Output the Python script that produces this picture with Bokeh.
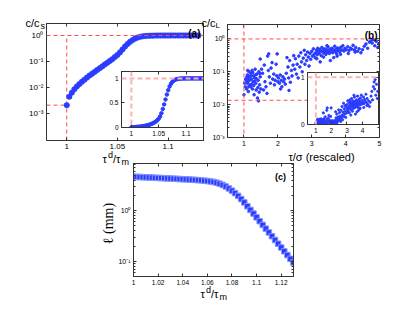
import numpy as np
from bokeh.plotting import figure
from bokeh.models import (Range1d, FixedTicker, CustomJSTickFormatter, LinearAxis,
                          LogAxis, Label, Span, Column, Plot)
from bokeh.embed import file_html
from bokeh.resources import INLINE

# ---------------- data ----------------
# panel (a): c/c_s versus tau^d/tau_m
a_x = [1.0000, 1.0025, 1.0050, 1.0075, 1.0100, 1.0125, 1.0150, 1.0175, 1.0200, 1.0225,
       1.0250, 1.0275, 1.0300, 1.0325, 1.0350, 1.0375, 1.0400, 1.0425, 1.0450, 1.0475,
       1.0500, 1.0525, 1.0550, 1.0575, 1.0600, 1.0625, 1.0650, 1.0675, 1.0700, 1.0725,
       1.0750, 1.0775, 1.0800, 1.0825, 1.0850, 1.0875, 1.0900, 1.0925, 1.0950, 1.0975,
       1.1000, 1.1025, 1.1050, 1.1075, 1.1100, 1.1125, 1.1150, 1.1175, 1.1200, 1.1225,
       1.1250, 1.1275, 1.1300]
a_y = [0.00209, 0.00437, 0.00631, 0.00851, 0.0110, 0.0135, 0.0166, 0.0200, 0.0240, 0.0288,
       0.0339, 0.0398, 0.0468, 0.0550, 0.0646, 0.0759, 0.0891, 0.105, 0.123, 0.148,
       0.178, 0.224, 0.290, 0.375, 0.470, 0.570, 0.670, 0.760, 0.835, 0.890,
       0.928, 0.954, 0.971, 0.982, 0.989, 0.993, 0.995, 0.997, 0.998, 0.999,
       0.999, 1.000, 1.000, 1.000, 1.000, 1.000, 1.000, 1.000, 1.000, 1.000,
       1.000, 1.000, 1.000]
a_ref_x = 1.0          # dashed guide positions
a_ref_top = 1.0
a_ref_low = 0.00209

# panel (b): c/c_L versus tau/sigma (rescaled)
b_x = [1.00, 1.02, 1.04, 1.05, 1.07, 1.08, 1.09, 1.10, 1.10, 1.11, 1.12, 1.12, 1.13, 1.14,
       1.15, 1.16, 1.17, 1.18, 1.19, 1.20, 1.21, 1.22, 1.23, 1.24, 1.25, 1.26, 1.27, 1.28,
       1.29, 1.30, 1.31, 1.32, 1.33, 1.34, 1.35, 1.36, 1.37, 1.38, 1.40, 1.41, 1.42, 1.43,
       1.44, 1.45, 1.46, 1.47, 1.48, 1.50, 1.52,
       1.48, 1.55, 1.58, 1.60, 1.62, 1.65, 1.68, 1.70, 1.72, 1.73, 1.75, 1.78, 1.80, 1.83,
       1.85, 1.88, 1.90, 1.92, 1.95, 1.97, 1.98, 2.00, 2.02, 2.05, 2.07, 2.08, 2.10, 2.12,
       2.15, 2.17, 2.20, 2.22, 2.25, 2.27, 2.30, 2.32, 2.33, 2.35, 2.37, 2.40, 2.42, 2.45,
       2.47, 2.50, 2.52, 2.55, 2.57, 2.60,
       2.62, 2.65, 2.68, 2.70, 2.72, 2.75, 2.78, 2.80, 2.82, 2.85, 2.88, 2.90, 2.92, 2.95,
       2.97, 3.00, 3.02, 3.05, 3.07, 3.10,
       3.12, 3.14, 3.16, 3.18, 3.20, 3.22, 3.24, 3.26, 3.28, 3.30, 3.32, 3.34, 3.36, 3.38,
       3.40, 3.42, 3.44, 3.46, 3.48, 3.50, 3.52, 3.54, 3.56, 3.58, 3.60, 3.62, 3.64, 3.66,
       3.68, 3.70, 3.72, 3.74, 3.76, 3.78, 3.80, 3.83, 3.86, 3.89, 3.92, 3.95, 3.98, 4.02,
       4.06, 4.10, 4.14, 4.18, 4.22, 4.26, 4.30, 4.35, 4.40, 4.45, 4.50, 4.55, 4.60, 4.65,
       4.70, 4.75, 4.78, 4.82, 4.86, 4.90, 4.95, 4.98,
       3.15, 3.25, 3.35, 3.45, 3.55, 3.65, 3.75, 3.85, 4.08, 4.28]
b_y = [0.020, 0.045, 0.035, 0.060, 0.055, 0.030, 0.070, 0.080, 0.045, 0.110, 0.050, 0.065,
       0.025, 0.035, 0.100, 0.055, 0.070, 0.040, 0.075, 0.035, 0.090, 0.060, 0.042, 0.110,
       0.030, 0.095, 0.050, 0.075, 0.038, 0.020, 0.065, 0.052, 0.120, 0.080, 0.045, 0.028,
       0.062, 0.085, 0.016, 0.033, 0.055, 0.013, 0.100, 0.024, 0.040, 0.088, 0.070, 0.030,
       0.120,
       0.245, 0.090, 0.028, 0.160, 0.050, 0.035, 0.022, 0.300, 0.110, 0.350, 0.070, 0.045,
       0.130, 0.190, 0.060, 0.085, 0.040, 0.055, 0.170, 0.075, 0.350, 0.050, 0.065, 0.045,
       0.080, 0.030, 0.055, 0.035, 0.070, 0.050, 0.060, 0.042, 0.090, 0.270, 0.140, 0.065,
       0.027, 0.220, 0.048, 0.110, 0.075, 0.160, 0.310, 0.120, 0.250, 0.085, 0.170, 0.065,
       0.30, 0.14, 0.38, 0.20, 0.10, 0.26, 0.45, 0.17, 0.33, 0.22, 0.40, 0.28, 0.15, 0.36,
       0.24, 0.42, 0.30, 0.50, 0.34, 0.27,
       0.38, 0.46, 0.33, 0.52, 0.41, 0.36, 0.48, 0.43, 0.31, 0.55, 0.40, 0.45, 0.37, 0.50,
       0.42, 0.34, 0.47, 0.39, 0.58, 0.44, 0.36, 0.49, 0.41, 0.45, 0.52, 0.38, 0.47, 0.43,
       0.60, 0.40, 0.48, 0.35, 0.53, 0.44, 0.50, 0.41, 0.56, 0.46, 0.62, 0.43, 0.51, 0.47,
       0.58, 0.44, 0.53, 0.49, 0.64, 0.46, 0.55, 0.42, 0.50, 0.38, 0.47, 0.60, 0.70, 0.52,
       0.80, 0.90, 0.75, 0.95, 0.62, 0.85, 0.55, 0.70,
       0.25, 0.20, 0.28, 0.62, 0.22, 0.27, 0.30, 0.34, 0.36, 0.40]
b_ref_x = 1.0
b_ref_top = 1.0
b_ref_low = 0.0136

# panel (c): l (mm) versus tau^d/tau_m
c_x = [1.0000, 1.0025, 1.0050, 1.0075, 1.0100, 1.0125, 1.0150, 1.0175, 1.0200, 1.0225,
       1.0250, 1.0275, 1.0300, 1.0325, 1.0350, 1.0375, 1.0400, 1.0425, 1.0450, 1.0475,
       1.0500, 1.0525, 1.0550, 1.0575, 1.0600, 1.0625, 1.0650, 1.0675, 1.0700, 1.0725,
       1.0750, 1.0775, 1.0800, 1.0825, 1.0850, 1.0875, 1.0900, 1.0925, 1.0950, 1.0975,
       1.1000, 1.1025, 1.1050, 1.1075, 1.1100, 1.1125, 1.1150, 1.1175, 1.1200, 1.1225,
       1.1250, 1.1275, 1.1300]
c_y = [4.65, 4.61, 4.58, 4.55, 4.52, 4.49, 4.46, 4.43, 4.40, 4.37,
       4.34, 4.31, 4.28, 4.25, 4.22, 4.18, 4.15, 4.12, 4.08, 4.06,
       4.02, 3.98, 3.94, 3.89, 3.83, 3.76, 3.67, 3.55, 3.39, 3.20,
       2.98, 2.73, 2.47, 2.21, 1.95, 1.69, 1.45, 1.22, 1.035, 0.875,
       0.738, 0.622, 0.525, 0.443, 0.373, 0.315, 0.265, 0.224, 0.189, 0.159,
       0.134, 0.113, 0.0955]

a_xticks = [1.0, 1.05, 1.1]
a_yticks = [1e-3, 1e-2, 1e-1, 1.0]
ain_xticks = [1.0, 1.05, 1.1]
ain_yticks = [0.0, 0.5, 1.0]
b_xticks = [1, 2, 3, 4, 5]
b_yticks = [1e-3, 1e-2, 1e-1, 1.0]
bin_xticks = [1, 2, 3, 4]
bin_yticks = [0, 1]
c_xticks = [1.0, 1.02, 1.04, 1.06, 1.08, 1.1, 1.12]
c_yticks = [0.1, 1.0]

# ---------------- styling helpers ----------------
BLUE = "#2a3cff"
RED = "#ff4d4d"
PINK = "#ffb0b0"
AX = "#333333"
FONT = "Liberation Sans"
HAS_FRAME_ALIGN = "frame_align" in Plot.properties()

LOGFMT = CustomJSTickFormatter(code="""
const e = Math.round(Math.log10(tick));
const sup = {"-":"\u207b","0":"\u2070","1":"\u00b9","2":"\u00b2","3":"\u00b3",
             "4":"\u2074","5":"\u2075","6":"\u2076","7":"\u2077","8":"\u2078","9":"\u2079"};
return "10" + String(e).split("").map(c => sup[c]).join("");
""")
NUMFMT = CustomJSTickFormatter(code="return String(+tick.toFixed(4));")
NOFMT = CustomJSTickFormatter(code="return '';")


def minor_log(lo_dec, hi_dec):
    out = []
    for d in range(lo_dec, hi_dec + 1):
        for m in range(2, 10):
            out.append(m * 10.0 ** d)
    return out


def place(p, left, top):
    p.styles = {"position": "absolute", "left": f"{left}px", "top": f"{top}px"}
    if HAS_FRAME_ALIGN:
        p.frame_align = False


def make_fig(left, top, fw, fh, bl, bt, br, bb, xr, yr, ylog=False, bg=None):
    p = figure(frame_width=fw, frame_height=fh, min_border_left=bl, min_border_top=bt,
               min_border_right=br, min_border_bottom=bb,
               x_range=Range1d(*xr), y_range=Range1d(*yr),
               y_axis_type="log" if ylog else "linear",
               output_backend="svg", toolbar_location=None, tools="")
    place(p, left, top)
    p.border_fill_alpha = 0
    if bg is None:
        p.background_fill_alpha = 0
    else:
        p.background_fill_color = bg
    p.grid.visible = False
    p.outline_line_color = AX
    p.outline_line_width = 1
    return p


def style_axis(ax, ticks, fmt, size, minor=None, standoff=3):
    ax.ticker = FixedTicker(ticks=ticks, minor_ticks=minor or [])
    ax.formatter = fmt
    ax.major_tick_in = 3
    ax.major_tick_out = 0
    ax.minor_tick_in = 2
    ax.minor_tick_out = 0
    ax.axis_line_color = AX
    ax.major_tick_line_color = AX
    ax.minor_tick_line_color = AX
    ax.major_label_text_font = FONT
    ax.major_label_text_font_size = f"{size}px"
    ax.major_label_text_color = "black"
    ax.major_label_standoff = standoff


def axes(p, xt, yt, xsize, ysize, ylog=False, yfmt=None, ymin=None):
    style_axis(p.xaxis[0], xt, NUMFMT, xsize)
    style_axis(p.yaxis[0], yt, yfmt or NUMFMT, ysize, ymin)
    top = LinearAxis()
    style_axis(top, xt, NOFMT, 1)
    p.add_layout(top, "above")
    right = LogAxis() if ylog else LinearAxis()
    style_axis(right, yt, NOFMT, 1, ymin)
    p.add_layout(right, "right")


def lab(p, x, y, text, size, font=FONT, style="normal", align="left",
        baseline="alphabetic", angle=0.0):
    p.add_layout(Label(x=x, y=y, x_units="screen", y_units="screen", text=text,
                       text_font=font, text_font_size=f"{size}px", text_font_style=style,
                       text_align=align, text_baseline=baseline, angle=angle,
                       text_color="black"))


def tau_label(p, x0, y0):
    lab(p, x0, y0, "\u03c4", 11)
    lab(p, x0 + 5.5, y0 + 4, "d", 9)
    lab(p, x0 + 10.5, y0, "/\u03c4", 11)
    lab(p, x0 + 19, y0 - 3, "m", 9)


# ---------------- panel (a) ----------------
pa = make_fig(8, 8, 157, 117, 38, 15, 6, 30, (0.98, 1.135), (9.1e-5, 2.9), ylog=True)
axes(pa, a_xticks, a_yticks, 8, 8, ylog=True, yfmt=LOGFMT)
pa.add_layout(Span(location=a_ref_top, dimension="width", line_color=RED,
                   line_dash="4 3", line_width=1))
pa.segment(x0=[a_ref_x], y0=[9.1e-5], x1=[a_ref_x], y1=[a_ref_top],
           line_color=RED, line_dash="4 3", line_width=1)
pa.segment(x0=[0.98], y0=[a_ref_low], x1=[a_ref_x], y1=[a_ref_low],
           line_color=RED, line_dash="4 3", line_width=1)
pa.scatter(a_x, a_y, size=5.5, color=BLUE, line_alpha=0.5)
lab(pa, 154, 107, "(a)", 10, style="bold", align="right")

# inset (a)
pai = make_fig(99, 67, 82, 56, 22, 4, 3, 14, (0.982, 1.132), (0.0, 1.14), bg="white")
axes(pai, ain_xticks, ain_yticks, 6.5, 6.5)
pai.add_layout(Span(location=1.0, dimension="width", line_color=PINK,
                    line_dash="5 3", line_width=2))
pai.add_layout(Span(location=a_ref_x, dimension="height", line_color=PINK,
                    line_dash="5 3", line_width=2))
pai.scatter(a_x, a_y, size=3.5, color=BLUE)

# ---------------- panel (b) ----------------
pb = make_fig(197, 8, 152, 113, 30, 16, 8, 26, (0.515, 5.0), (1e-3, 2.75), ylog=True)
axes(pb, b_xticks, b_yticks, 7, 7, ylog=True, yfmt=LOGFMT, ymin=minor_log(-3, 0))
pb.add_layout(Span(location=b_ref_top, dimension="width", line_color=RED,
                   line_dash="4 3", line_width=1))
pb.add_layout(Span(location=b_ref_x, dimension="height", line_color=RED,
                   line_dash="4 3", line_width=1))
pb.add_layout(Span(location=b_ref_low, dimension="width", line_color=RED,
                   line_dash="4 3", line_width=1))
pb.scatter(b_x, b_y, size=2.6, color=BLUE)
lab(pb, 150, 102, "(b)", 10, style="bold", align="right")

# inset (b)
pbi = make_fig(295, 68, 71, 52, 12, 4, 3, 14, (0.46, 5.03), (0.0, 1.1), bg="white")
axes(pbi, bin_xticks, bin_yticks, 6.5, 6.5)
pbi.add_layout(Span(location=1.0, dimension="width", line_color=PINK,
                    line_dash="5 3", line_width=2))
pbi.add_layout(Span(location=b_ref_x, dimension="height", line_color=PINK,
                    line_dash="5 3", line_width=2))
pbi.scatter(b_x, b_y, size=2.2, color=BLUE)

# ---------------- panel (c) ----------------
pc = make_fig(95, 157, 160, 113, 38, 6, 6, 25, (1.0, 1.13), (0.0508, 8.45), ylog=True)
axes(pc, c_xticks, c_yticks, 6.5, 7, ylog=True, yfmt=LOGFMT, ymin=minor_log(-2, 0))
pc.scatter(c_x, c_y, marker="square", size=5.5, fill_color=BLUE,
           line_color="#8a96ff", line_width=1)
lab(pc, 152.5, 99.5, "(c)", 9, style="bold", align="right")

# ---------------- transparent overlay for texts outside the frames ----------------
ov = figure(frame_width=399, frame_height=293, min_border=0,
            x_range=Range1d(0, 1), y_range=Range1d(0, 1),
            x_axis_location=None, y_axis_location=None,
            output_backend="svg", toolbar_location=None, tools="")
place(ov, 8, 8)
ov.border_fill_alpha = 0
ov.background_fill_alpha = 0
ov.outline_line_color = None
ov.grid.visible = False

lab(ov, 17, 279, "c/c", 11)
lab(ov, 32, 276, "s", 9)
lab(ov, 193, 279, "c/c", 11)
lab(ov, 207, 276.5, "L", 8)
tau_label(ov, 94, 143)
lab(ov, 313, 145, "\u03c4/\u03c3 (rescaled)", 11, align="center")
tau_label(ov, 192, 8)
lab(ov, 100, 78, "\u2113 (mm)", 14, font="Liberation Serif", align="center",
    baseline="middle", angle=np.pi / 2)

figs = [pa, pai, pb, pbi, pc, ov]
if HAS_FRAME_ALIGN:
    root = Column(children=figs, width=399, height=293, sizing_mode="fixed")
else:
    root = figs

open("out.html", "w").write(file_html(root, INLINE))
